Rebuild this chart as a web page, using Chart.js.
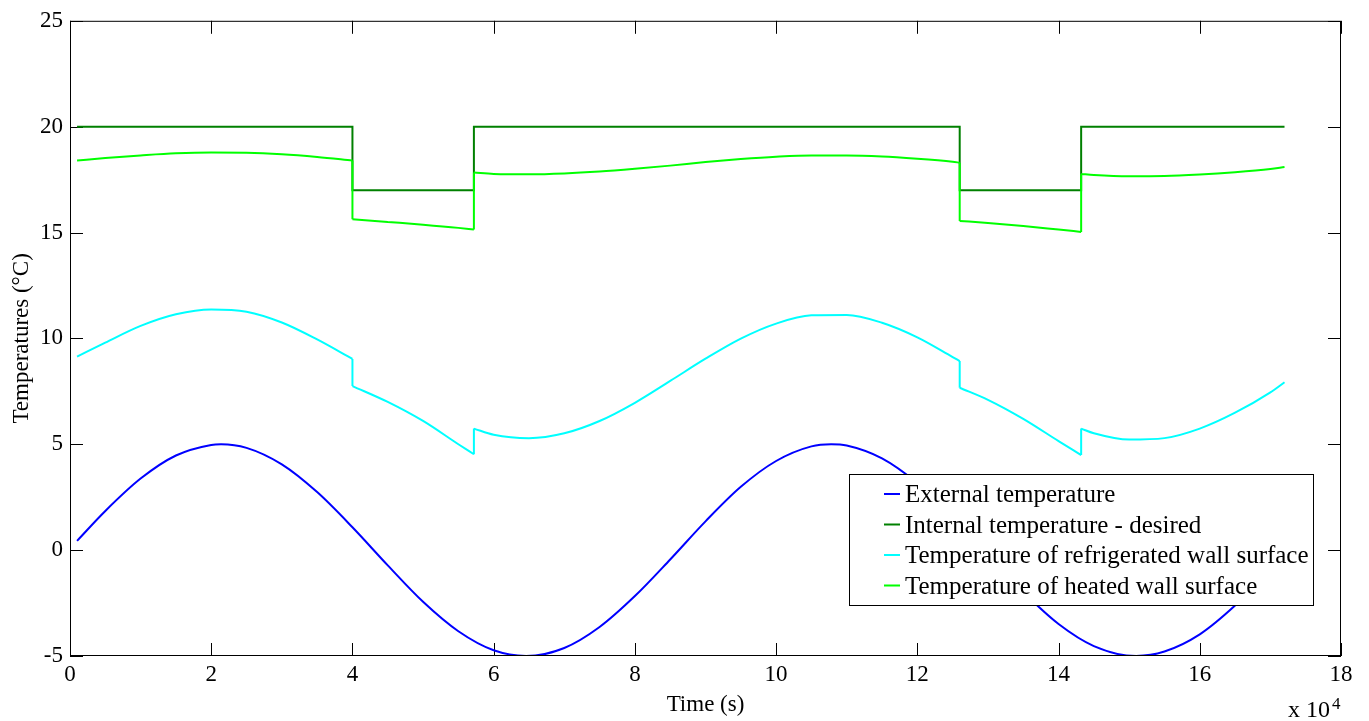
<!DOCTYPE html>
<html lang="en">
<head>
<meta charset="UTF-8">
<title>Temperatures</title>
<script src="https://cdn.jsdelivr.net/npm/chart.js@4.4.1/dist/chart.umd.min.js"></script>
<style>
  html, body { margin: 0; padding: 0; background: #fff; }
</style>
</head>
<body>
<canvas id="tempChart" width="1369" height="721"></canvas>
<script>
// time in units of 10^4 s
const timeExt = [0.1, 0.5, 1, 1.5, 2, 2.14, 2.5, 3, 3.5, 4, 4.5, 5, 5.5, 6, 6.46, 7, 7.5, 8, 8.5,
                 9, 9.5, 10, 10.5, 10.78, 11, 11.5, 12, 12.5, 13, 13.5, 14, 14.5, 15.1, 15.5, 16, 16.5, 17, 17.2];
const tempExt = [0.44, 1.85, 3.38, 4.47, 4.97, 5.0, 4.83, 4.05, 2.74, 1.08, -0.72, -2.44, -3.83, -4.73, -5.0,
                 -4.62, -3.63, -2.17, -0.44, 1.36, 2.99, 4.21, 4.90, 5.0, 4.94, 4.33, 3.16, 1.57, -0.22,
                 -1.98, -3.49, -4.53, -5.0, -4.79, -3.98, -2.62, -0.94, -0.22];

// desired internal set point (steps)
const timeSet = [0.1, 4, 4, 5.72, 5.72, 12.6, 12.6, 14.32, 14.32, 17.2];
const tempSet = [20, 20, 17, 17, 20, 20, 17, 17, 20, 20];

// wall surfaces, a repeated time is a switching instant
const timeWall = [0.1, 0.5, 1, 1.5, 2, 2.5, 3, 3.5, 4, 4, 4.5, 5, 5.5, 5.72, 5.72, 6, 6.5, 7, 7.5, 8,
                  8.5, 9, 9.5, 10, 10.5, 11, 11.5, 12, 12.5, 12.6, 12.6, 13, 13.5, 14, 14.32, 14.32,
                  14.5, 15, 15.5, 16, 16.5, 17, 17.2];
const tempCold = [9.14, 9.80, 10.59, 11.14, 11.37, 11.26, 10.75, 9.95, 9.03,
                  7.75, 7.0, 6.1, 5.0, 4.53,
                  5.74, 5.45, 5.29, 5.52, 6.10, 6.96, 7.99, 9.04, 9.99, 10.70, 11.09, 11.11, 10.74, 10.05, 9.12, 8.93,
                  7.67, 7.1, 6.2, 5.15, 4.49,
                  5.74, 5.52, 5.22, 5.29, 5.74, 6.49, 7.45, 7.93];
const tempHot = [18.40, 18.52, 18.64, 18.74, 18.78, 18.77, 18.70, 18.57, 18.40,
                 15.63, 15.50, 15.37, 15.22, 15.14,
                 17.83, 17.77, 17.75, 17.79, 17.88, 18.01, 18.16, 18.33, 18.47, 18.58, 18.64, 18.64, 18.59, 18.48, 18.34, 18.30,
                 15.55, 15.45, 15.31, 15.14, 15.03,
                 17.77, 17.72, 17.66, 17.67, 17.74, 17.85, 18.00, 18.09];

const seriesNames = ['External temperature', 'Internal temperature - desired',
                     'Temperature of refrigerated wall surface', 'Temperature of heated wall surface'];
const seriesColors = ['#0000ff', '#008000', '#00ffff', '#00ff00'];

const xTitle = 'Time (s)';
const yTitle = 'Temperatures (°C)';

const serif = '"Liberation Serif", "Times New Roman", serif';
Chart.defaults.font.family = serif;
Chart.defaults.color = '#000';

function pairs(xs, ys) {
  return xs.map((v, i) => ({ x: v, y: ys[i] }));
}

// smooth pieces broken at the switching instants, plus the vertical jumps
function splitAtJumps(xs, ys) {
  const curve = [], jumps = [];
  xs.forEach((v, i) => {
    curve.push({ x: v, y: ys[i] });
    if (xs[i + 1] === v) {
      curve.push({ x: v, y: null });
      jumps.push({ x: v, y: ys[i] }, { x: v, y: ys[i + 1] }, { x: v, y: null });
    }
  });
  return { curve, jumps };
}

const cold = splitAtJumps(timeWall, tempCold);
const hot = splitAtJumps(timeWall, tempHot);

// inward ticks on all four sides, the box, legend and exponent
const matlabFrame = {
  id: 'matlabFrame',
  beforeDatasetsDraw(chart) {
    const { ctx, chartArea: a, scales: { x, y } } = chart;
    const len = 13;
    ctx.save();
    ctx.strokeStyle = '#000';
    ctx.lineWidth = 1;
    ctx.beginPath();
    x.ticks.forEach(t => {
      const px = Math.round(x.getPixelForValue(t.value)) + 0.5;
      ctx.moveTo(px, a.bottom); ctx.lineTo(px, a.bottom - len);
      ctx.moveTo(px, a.top); ctx.lineTo(px, a.top + len);
    });
    y.ticks.forEach(t => {
      const py = Math.round(y.getPixelForValue(t.value)) + 0.5;
      ctx.moveTo(a.left, py); ctx.lineTo(a.left + len, py);
      ctx.moveTo(a.right, py); ctx.lineTo(a.right - len, py);
    });
    ctx.stroke();
    ctx.restore();
  },
  afterDatasetsDraw(chart) {
    const { ctx, chartArea: a } = chart;
    ctx.save();
    ctx.strokeStyle = '#000';
    ctx.lineWidth = 1;
    ctx.strokeRect(a.left + 0.5, a.top + 0.5, a.width - 1, a.height - 1);

    const bx = 849.5, by = 474.5, bw = 464, bh = 131;
    ctx.fillStyle = '#fff';
    ctx.fillRect(bx, by, bw, bh);
    ctx.strokeRect(bx, by, bw, bh);
    ctx.font = '25px ' + serif;
    ctx.textBaseline = 'alphabetic';
    ctx.textAlign = 'left';
    seriesNames.forEach((name, i) => {
      const ly = 494 + i * 30.5;
      ctx.strokeStyle = seriesColors[i];
      ctx.lineWidth = 2;
      ctx.beginPath();
      ctx.moveTo(884, ly);
      ctx.lineTo(900, ly);
      ctx.stroke();
      ctx.fillStyle = '#000';
      ctx.fillText(name, 905, ly + 8);
    });

    ctx.fillStyle = '#000';
    ctx.font = '24px ' + serif;
    ctx.fillText('x 10', 1288, 717);
    ctx.font = '17px ' + serif;
    ctx.fillText('4', 1332, 709);
    ctx.restore();
  }
};

new Chart(document.getElementById('tempChart'), {
  type: 'line',
  data: {
    datasets: [
      { label: seriesNames[0], data: pairs(timeExt, tempExt), borderColor: seriesColors[0],
        cubicInterpolationMode: 'monotone', order: 4 },
      { label: seriesNames[1], data: pairs(timeSet, tempSet), borderColor: seriesColors[1],
        tension: 0, order: 3 },
      { label: seriesNames[2], data: cold.curve, borderColor: seriesColors[2],
        cubicInterpolationMode: 'monotone', order: 2 },
      { label: seriesNames[2], data: cold.jumps, borderColor: seriesColors[2], tension: 0, order: 2 },
      { label: seriesNames[3], data: hot.curve, borderColor: seriesColors[3],
        cubicInterpolationMode: 'monotone', order: 1 },
      { label: seriesNames[3], data: hot.jumps, borderColor: seriesColors[3], tension: 0, order: 1 }
    ]
  },
  options: {
    responsive: false,
    animation: false,
    devicePixelRatio: 1,
    layout: { padding: { left: 0, right: 28, top: 18, bottom: 0 } },
    elements: {
      point: { radius: 0 },
      line: { borderWidth: 2, fill: false }
    },
    plugins: {
      legend: { display: false },
      tooltip: { enabled: false }
    },
    scales: {
      x: {
        type: 'linear',
        min: 0,
        max: 18,
        ticks: { stepSize: 2, padding: 5, font: { size: 23 }, color: '#000' },
        grid: { display: false, drawTicks: false },
        border: { display: false },
        title: { display: true, text: xTitle, font: { size: 23 }, color: '#000', padding: { top: 0, bottom: 2 } },
        afterFit(scale) { scale.height = 65; }
      },
      y: {
        min: -5,
        max: 25,
        ticks: { stepSize: 5, padding: 7, font: { size: 23 }, color: '#000' },
        grid: { display: false, drawTicks: false },
        border: { display: false },
        title: { display: true, text: yTitle, font: { size: 23 }, color: '#000', padding: { top: 8, bottom: 0 } },
        afterFit(scale) { scale.width = 70; }
      }
    }
  },
  plugins: [matlabFrame]
});
</script>
</body>
</html>
